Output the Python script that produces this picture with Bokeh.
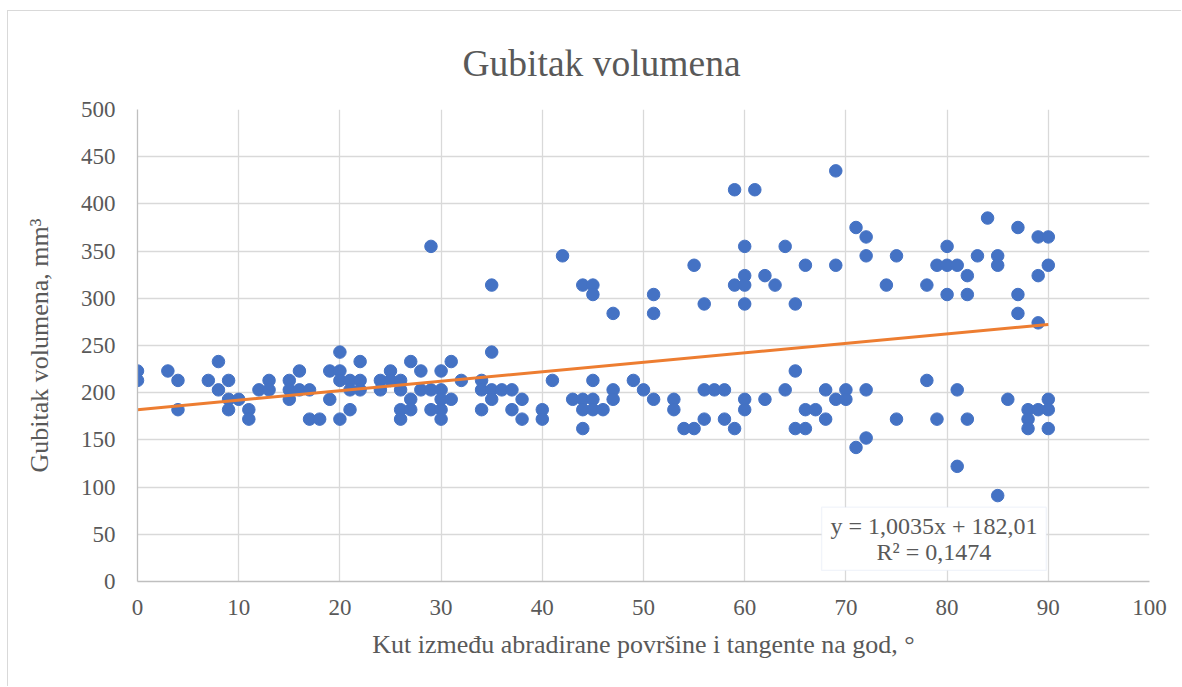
from bokeh.plotting import figure
from bokeh.models import Range1d, FixedTicker, BoxAnnotation, Label
from bokeh.embed import file_html
from bokeh.resources import INLINE

# Kut (angle, degrees)
angle = [0, 0, 3, 4, 4, 7, 8, 8, 9, 9, 9, 10, 11, 11, 12, 13, 13,
         15, 15, 15, 16, 16, 17, 17, 18, 19, 19, 20, 20, 20, 20,
         21, 21, 21, 22, 22, 22, 24, 24, 25, 25, 26, 26, 26, 26,
         27, 27, 27, 28, 28, 29, 29, 29, 30, 30, 30, 30, 30, 31, 31, 32,
         34, 34, 34, 35, 35, 35, 35, 36, 37, 37, 38, 38, 40, 40, 41, 42, 43,
         44, 44, 44, 44, 45, 45, 45, 45, 45, 46, 47, 47, 47, 49, 50,
         51, 51, 51, 53, 53, 54, 55, 55, 56, 56, 56, 57, 58, 58,
         59, 59, 59, 60, 60, 60, 60, 60, 60, 61, 62, 62, 63, 64, 64,
         65, 65, 65, 66, 66, 66, 67, 68, 68, 69, 69, 69, 70, 70, 71, 71,
         72, 72, 72, 72, 74, 75, 75, 78, 78, 79, 79, 80, 80, 80,
         81, 81, 81, 82, 82, 82, 83, 84, 85, 85, 85, 86, 87, 87, 87,
         88, 88, 88, 89, 89, 89, 89, 90, 90, 90, 90, 90]
# Gubitak volumena (mm3)
volume = [223, 213, 223, 213, 182, 213, 233, 203, 213, 193, 182, 193, 182, 172, 203, 213, 203,
          213, 203, 193, 223, 203, 203, 172, 172, 223, 193, 243, 223, 213, 172,
          213, 203, 182, 233, 213, 203, 213, 203, 223, 213, 213, 203, 182, 172,
          233, 193, 182, 223, 203, 355, 203, 182, 223, 203, 193, 182, 172, 233, 193, 213,
          213, 203, 182, 314, 243, 203, 193, 203, 203, 182, 193, 172, 182, 172, 213, 345, 193,
          314, 193, 182, 162, 314, 304, 213, 193, 182, 182, 284, 203, 193, 213, 203,
          304, 284, 193, 193, 182, 162, 335, 162, 294, 203, 172, 203, 203, 172,
          415, 314, 162, 355, 324, 314, 294, 193, 182, 415, 324, 193, 314, 355, 203,
          294, 223, 162, 335, 182, 162, 182, 203, 172, 435, 335, 193, 203, 193, 375, 142,
          365, 345, 203, 152, 314, 345, 172, 314, 213, 335, 172, 355, 335, 304,
          335, 203, 122, 324, 304, 172, 345, 385, 345, 335, 91, 193, 375, 304, 284,
          182, 172, 162, 365, 324, 274, 182, 365, 335, 193, 182, 162]

slope = 1.0035
intercept = 182.01
eq_text = "y = 1,0035x + 182,01"
r2_text = "R² = 0,1474"
x_ticks = list(range(0, 101, 10))
y_ticks = list(range(0, 501, 50))

TXT = "#595959"
FONT = "Liberation Serif"

p = figure(width=1174, height=676, output_backend="svg", toolbar_location=None,
           x_range=Range1d(0, 100), y_range=Range1d(0, 500),
           min_border_left=129, min_border_right=33, min_border_top=98,
           min_border_bottom=106, title="Gubitak volumena")
p.styles = {"position": "relative", "left": "8px", "top": "11px",
            "box-shadow": "-1px -1px 0 0 #d9d9d9"}
p.outline_line_color = None

p.title.align = "left"
p.title.offset = 325
p.title.vertical_align = "top"
p.title.text_font = FONT
p.title.text_font_size = "37.5px"
p.title.text_font_style = "normal"
p.title.text_color = TXT
p.title.standoff = 48

p.xaxis.ticker = FixedTicker(ticks=x_ticks)
p.yaxis.ticker = FixedTicker(ticks=y_ticks)
for ax in (p.xaxis[0], p.yaxis[0]):
    ax.axis_line_color = "#bfbfbf"
    ax.axis_line_width = 1.3
    ax.major_tick_line_color = None
    ax.minor_tick_line_color = None
    ax.major_label_text_font = FONT
    ax.major_label_text_font_size = "23px"
    ax.major_label_text_color = TXT
    ax.axis_label_text_font = FONT
    ax.axis_label_text_font_size = "26px"
    ax.axis_label_text_font_style = "normal"
    ax.axis_label_text_color = TXT

p.xaxis.axis_label = "Kut između abradirane površine i tangente na god, °"
p.yaxis.axis_label = "Gubitak volumena, mm³"
p.xaxis.major_label_standoff = 12
p.xaxis.axis_label_standoff = 12
p.yaxis.major_label_standoff = 16
p.yaxis.axis_label_standoff = 24

p.grid.grid_line_color = "#d9d9d9"
p.grid.grid_line_width = 1.3

p.scatter(angle, volume, size=12.5, fill_color="#4472C4", line_color="#4472C4")

x0, x1 = min(angle), max(angle)
p.line([x0, x1], [slope * x0 + intercept, slope * x1 + intercept],
       line_color="#ED7D31", line_width=3)

box = BoxAnnotation(left=67.6, right=89.8, top=78.7, bottom=11.7,
                    fill_color="white", fill_alpha=1.0,
                    line_color="#d0dbef", line_width=1.3)
p.add_layout(box)
p.add_layout(Label(x=78.7, y=59.3, text=eq_text, text_align="center",
                   text_baseline="middle", text_font=FONT,
                   text_font_size="24px", text_color=TXT))
p.add_layout(Label(x=78.7, y=31, text=r2_text, text_align="center",
                   text_baseline="middle", text_font=FONT,
                   text_font_size="24px", text_color=TXT))

open("out.html", "w").write(file_html(p, INLINE))
